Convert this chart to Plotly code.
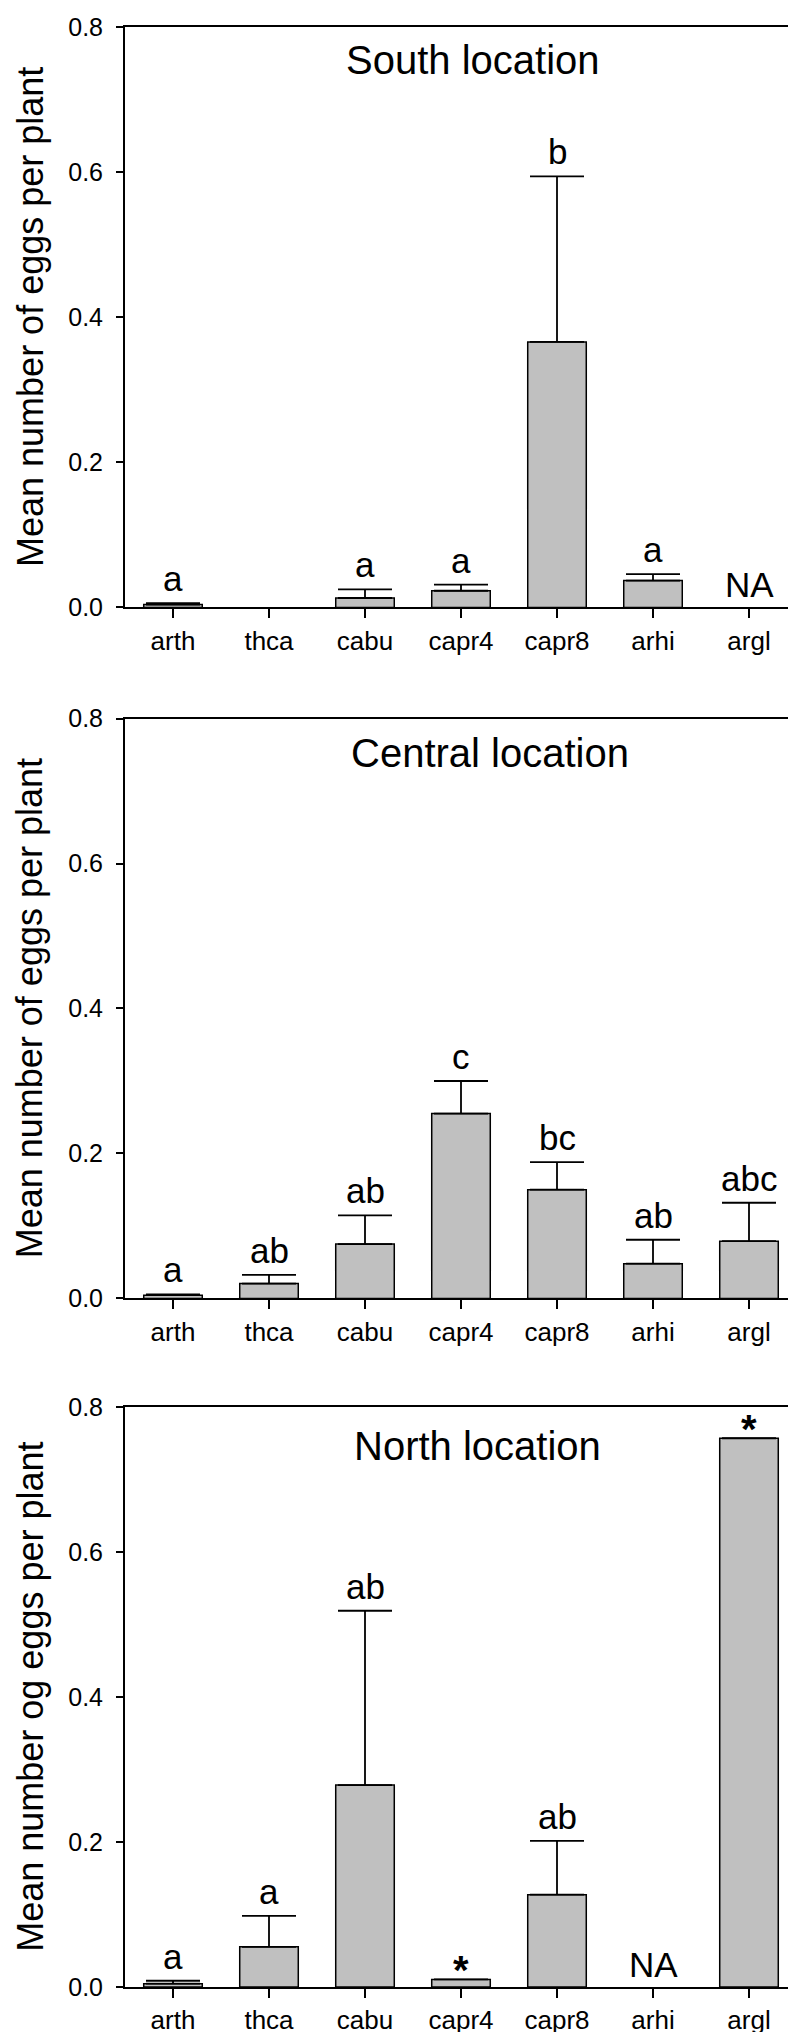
import plotly.graph_objects as go

categories = ["arth", "thca", "cabu", "capr4", "capr8", "arhi", "argl"]

south_means = [0.004, None, 0.013, 0.023, 0.366, 0.037, None]
south_err = [0.002, None, 0.012, 0.0085, 0.228, 0.009, None]
south_letters = ["a", "", "a", "a", "b", "a", "NA"]

central_means = [0.0045, 0.0206, 0.075, 0.255, 0.150, 0.048, 0.079]
central_err = [0.001, 0.012, 0.0396, 0.045, 0.038, 0.033, 0.053]
central_letters = ["a", "ab", "ab", "c", "bc", "ab", "abc"]

north_means = [0.0046, 0.0554, 0.2786, 0.0105, 0.1274, None, 0.757]
north_err = [0.004, 0.0426, 0.2404, None, 0.0742, None, None]
north_letters = ["a", "a", "ab", "*", "ab", "NA", "*"]

panel_titles = ["South location", "Central location", "North location"]
y_titles = ["Mean number of eggs per plant",
            "Mean number of eggs per plant",
            "Mean number og eggs per plant"]

FONT = "Liberation Sans, Arial, sans-serif"
W, H = 796, 2032
ML, MR, MT, MB = 117, 5, 16, 49
plot_h = H - MT - MB

# panel pixel extents (top, bottom) in page coords
panels_px = [(16, 598.5), (710, 1292), (1401, 1983)]
title_x_px = [466, 483, 471]
title_dy = [33, 34, 38.5]

data = [(south_means, south_err, south_letters),
        (central_means, central_err, central_letters),
        (north_means, north_err, north_letters)]

fig = go.Figure()
annotations = []
for i, ((means, errs, letters), (top, bot)) in enumerate(zip(data, panels_px)):
    n = i + 1
    xa = "x" if n == 1 else f"x{n}"
    ya = "y" if n == 1 else f"y{n}"
    fig.add_trace(go.Bar(
        x=categories, y=means, xaxis=xa, yaxis=ya,
        marker=dict(color="#c0c0c0", line=dict(color="black", width=1.5)),
        error_y=dict(type="data", symmetric=False, array=errs,
                     arrayminus=[0] * len(categories),
                     color="black", thickness=1.8, width=27),
        showlegend=False, hoverinfo="skip"))
    dom = [(H - MB - bot) / plot_h, (H - MB - top) / plot_h]
    dom = [max(0, dom[0]), min(1, dom[1])]
    axx = dict(domain=[0, 1], anchor=ya, type="category",
               categoryorder="array", categoryarray=categories,
               showline=True, linecolor="black", linewidth=2, mirror=True,
               ticks="outside", ticklen=9, tickwidth=1.5, tickcolor="black",
               tickfont=dict(family=FONT, size=26, color="black"),
               showgrid=False, zeroline=False, fixedrange=True)
    axy = dict(domain=dom, anchor=xa, range=[0, 0.8], dtick=0.2, tickformat=".1f",
               showline=True, linecolor="black", linewidth=2, mirror=True,
               ticks="outside", ticklen=7, tickwidth=1.5, tickcolor="black",
               ticklabelstandoff=8,
               tickfont=dict(family=FONT, size=25, color="black"),
               showgrid=False, zeroline=False, fixedrange=True)
    key = "" if n == 1 else str(n)
    fig.layout["xaxis" + key] = axx
    fig.layout["yaxis" + key] = axy

    # panel title
    annotations.append(dict(text=panel_titles[i], xref="paper", yref=f"{ya} domain",
                            x=(title_x_px[i] - ML) / (W - ML - MR), y=1,
                            xanchor="center", yanchor="middle", yshift=-title_dy[i],
                            showarrow=False,
                            font=dict(family=FONT, size=40, color="black")))
    # y-axis title
    annotations.append(dict(text=y_titles[i], xref="paper", yref=f"{ya} domain",
                            x=(21.5 - ML) / (W - ML - MR), y=0.5, textangle=-90,
                            xanchor="center", yanchor="middle", showarrow=False,
                            font=dict(family=FONT, size=36, color="black")))
    # significance letters
    for c, m, e, lab in zip(categories, means, errs, letters):
        if not lab:
            continue
        if m is None:
            yv, shift = 0, 1
        elif lab == "*":
            yv, shift = m, -15
        else:
            yv, shift = m + (e or 0), 3
        annotations.append(dict(text=lab if lab != "*" else "<b>*</b>",
                                xref=xa, yref=ya, x=c, y=yv,
                                xanchor="center", yanchor="bottom", yshift=shift,
                                showarrow=False,
                                font=dict(family=FONT, size=35 if lab != "*" else 40,
                                          color="black")))

fig.update_layout(width=W, height=H, margin=dict(l=ML, r=MR, t=MT, b=MB),
                  paper_bgcolor="white", plot_bgcolor="white",
                  bargap=0.39, annotations=annotations)

fig.write_html("out.html")
